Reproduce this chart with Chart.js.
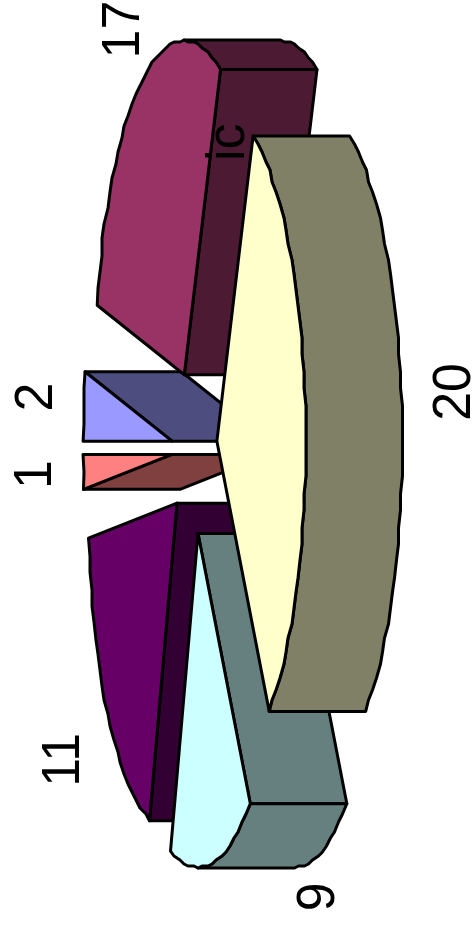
<!DOCTYPE html>
<html lang="en">
<head>
    <meta charset="UTF-8">
    <title>Pie</title>
    <script src="https://cdn.jsdelivr.net/npm/chart.js"></script>
    <style>
        html, body { margin: 0; padding: 0; background: #ffffff; }
        canvas { display: block; }
    </style>
</head>
<body>
    <canvas id="pie_chart" width="472" height="925"></canvas>

    <script>
        // Values, clockwise from the back of the pie
        const categories = ["2", "17", "20", "9", "11", "1"];
        const values = [2, 17, 20, 9, 11, 1];
        const sliceColors = ["#9999FF", "#993366", "#FFFFCC", "#CCFFFF", "#660066", "#FF8080"];
        const wallColors = ["#4D4D80", "#4D1A33", "#808066", "#668080", "#330033", "#804040"];
        const titleText = "ic";

        // Tilted view of the pie, turned a quarter anticlockwise on the page
        const view = { cx: 194.5, cy: 450, rx: 89, ry: 334, depth: 96.5, grid: 2, step: 3 };
        const fontSpec = "54px 'Liberation Sans', Arial, sans-serif";
        const labelGap = 50;
        const labelShift = { "2": [-2, -4], "17": [-2, -3], "20": [-2, -9], "9": [-2, -16], "11": [-10, 15], "1": [-2, 0] };

        function sliceGeometry(arc) {
            const p = arc.getProps(["startAngle", "endAngle", "outerRadius"], true);
            const kx = view.rx / p.outerRadius;
            const ky = view.ry / p.outerRadius;
            const mid = (p.startAngle + p.endAngle) / 2;
            const ox = Math.cos(mid) * arc.options.offset;
            const oy = Math.sin(mid) * arc.options.offset;
            const project = function (dx, dy) {
                return { x: view.cx + (dy + oy) * kx, y: view.cy - (dx + ox) * ky };
            };
            const apex = project(0, 0);
            const rim = [];
            const n = Math.max(2, Math.round((p.endAngle - p.startAngle) * 180 / Math.PI / view.step));
            for (let i = 0; i <= n; i++) {
                const a = p.startAngle + (p.endAngle - p.startAngle) * i / n;
                const pt = project(Math.cos(a) * p.outerRadius, Math.sin(a) * p.outerRadius);
                // the original outline is stepped, not smooth
                if (i > 0 && i < n) {
                    pt.x = Math.round(pt.x / view.grid) * view.grid;
                    pt.y = Math.round(pt.y / view.grid) * view.grid;
                }
                pt.front = Math.sin(a) >= 0;
                rim.push(pt);
            }
            const bis = project(Math.cos(mid) * p.outerRadius, Math.sin(mid) * p.outerRadius);
            return { apex: apex, rim: rim, mid: mid, bis: bis };
        }

        function drawPoly(ctx, pts, fill) {
            ctx.beginPath();
            pts.forEach(function (pt, i) {
                if (i === 0) ctx.moveTo(pt.x, pt.y);
                else ctx.lineTo(pt.x, pt.y);
            });
            ctx.closePath();
            ctx.fillStyle = fill;
            ctx.fill();
            ctx.stroke();
        }

        function down(pt) {
            return { x: pt.x + view.depth, y: pt.y };
        }

        function drawSlice(ctx, g, top, wall) {
            const first = g.rim[0];
            const last = g.rim[g.rim.length - 1];
            // cut faces, only the ones turned to the viewer
            if (first.y > g.apex.y) drawPoly(ctx, [g.apex, first, down(first), down(g.apex)], wall);
            if (g.apex.y > last.y) drawPoly(ctx, [last, g.apex, down(g.apex), down(last)], wall);
            // outer wall
            const front = g.rim.filter(function (pt) { return pt.front; });
            if (front.length > 1) {
                drawPoly(ctx, front.concat(front.slice().reverse().map(down)), wall);
            }
            drawPoly(ctx, [g.apex].concat(g.rim), top);
        }

        function drawText(ctx, text, x, y) {
            ctx.save();
            ctx.translate(x, y);
            ctx.rotate(-Math.PI / 2);
            ctx.scale(0.96, 1);
            ctx.fillText(text, 0, 0);
            ctx.restore();
        }

        const tiltedPie = {
            id: "tiltedPie",
            beforeDatasetsDraw: function (chart) {
                const ctx = chart.ctx;
                const arcs = chart.getDatasetMeta(0).data;
                const slices = arcs.map(function (arc, i) {
                    return { i: i, g: sliceGeometry(arc) };
                });
                ctx.save();
                ctx.lineWidth = 3;
                ctx.lineJoin = "round";
                ctx.strokeStyle = "#000000";
                // back to front
                slices.slice().sort(function (a, b) {
                    return a.g.apex.x - b.g.apex.x;
                }).forEach(function (s) {
                    drawSlice(ctx, s.g, sliceColors[s.i], wallColors[s.i]);
                });

                ctx.fillStyle = "#000000";
                ctx.font = fontSpec;
                ctx.textAlign = "center";
                ctx.textBaseline = "alphabetic";
                slices.forEach(function (s) {
                    const cosA = Math.sin(s.g.mid);
                    const sinA = -Math.cos(s.g.mid);
                    const shift = labelShift[categories[s.i]];
                    const wall = cosA > 0 ? view.depth : 0;
                    const x = s.g.bis.x + wall + labelGap * cosA + shift[0] + 20;
                    const y = s.g.bis.y + labelGap * sinA + shift[1];
                    drawText(ctx, categories[s.i], x, y);
                });
                ctx.textAlign = "left";
                drawText(ctx, titleText, 244, 161);
                ctx.restore();
                return false;
            }
        };

        new Chart(document.getElementById("pie_chart"), {
            type: "pie",
            data: {
                labels: categories,
                datasets: [{
                    data: values,
                    backgroundColor: sliceColors,
                    borderWidth: 0,
                    offset: 53
                }]
            },
            options: {
                responsive: false,
                animation: false,
                plugins: {
                    legend: { display: false },
                    tooltip: { enabled: false }
                }
            },
            plugins: [tiltedPie]
        });
    </script>
</body>
</html>
